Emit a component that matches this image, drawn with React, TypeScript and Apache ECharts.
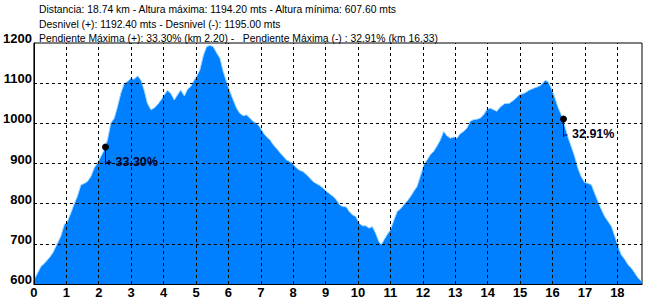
import React, { useEffect, useRef } from "react";
import * as echarts from "echarts";

// Profile: distance (km) and altitude (m)
const kms = [
  0.0, 0.11, 0.22, 0.32, 0.47, 0.58, 0.68, 0.83, 0.94, 1.02, 1.14, 1.23, 1.34, 1.45, 1.55, 1.65, 1.76, 1.86, 1.96,
  2.07, 2.17, 2.27, 2.37, 2.48, 2.58, 2.68, 2.79, 2.89, 2.99, 3.09, 3.2, 3.3, 3.4, 3.5, 3.61, 3.71, 3.81, 3.92,
  4.02, 4.12, 4.22, 4.33, 4.43, 4.53, 4.64, 4.74, 4.84, 4.92, 5.02, 5.12, 5.23, 5.33, 5.43, 5.53, 5.64, 5.74, 5.84,
  5.94, 6.03, 6.15, 6.25, 6.35, 6.46, 6.56, 6.66, 6.76, 6.87, 6.97, 7.07, 7.17, 7.28, 7.38, 7.48, 7.58, 7.69, 7.79,
  7.89, 7.99, 8.1, 8.2, 8.3, 8.41, 8.51, 8.61, 8.71, 8.82, 8.92, 9.02, 9.12, 9.23, 9.33, 9.43, 9.53, 9.64, 9.72,
  9.83, 9.93, 10.03, 10.13, 10.24, 10.34, 10.44, 10.54, 10.64, 10.72, 10.8, 10.9, 11.0, 11.11, 11.21, 11.31, 11.41,
  11.51, 11.62, 11.72, 11.82, 11.92, 12.03, 12.13, 12.23, 12.33, 12.44, 12.54, 12.64, 12.74, 12.85, 12.95, 13.05,
  13.15, 13.26, 13.36, 13.46, 13.56, 13.66, 13.77, 13.87, 13.97, 14.07, 14.18, 14.28, 14.38, 14.52, 14.67, 14.82,
  14.98, 15.13, 15.29, 15.44, 15.6, 15.7, 15.77, 15.86, 15.96, 16.06, 16.16, 16.27, 16.37, 16.47, 16.58, 16.68,
  16.78, 16.88, 16.99, 17.09, 17.2, 17.3, 17.4, 17.51, 17.61, 17.71, 17.82, 17.92, 18.02, 18.12, 18.23, 18.33,
  18.43, 18.54, 18.64, 18.74,
];
const altitudes = [
  610, 627, 644, 651, 665, 677, 694, 719, 749, 753, 777, 797, 818, 847, 850, 855, 868, 889, 901,
  918, 934, 959, 1000, 1013, 1042, 1075, 1100, 1104, 1112, 1110, 1118, 1108, 1083, 1050, 1034, 1038, 1046, 1058,
  1071, 1082, 1075, 1058, 1071, 1083, 1068, 1085, 1092, 1104, 1117, 1133, 1170, 1191, 1194, 1191, 1175, 1162, 1129,
  1104, 1083, 1058, 1038, 1025, 1019, 1021, 1013, 1005, 1000, 991, 977, 967, 959, 947, 938, 928, 918, 909,
  905, 899, 889, 883, 880, 872, 864, 855, 850, 845, 839, 831, 825, 818, 810, 797, 793, 792, 781,
  772, 768, 752, 745, 745, 739, 743, 727, 706, 698, 710, 723, 735, 760, 781, 787, 797,
  806, 818, 831, 843, 868, 897, 909, 922, 930, 944, 959, 980, 969, 963, 966, 963,
  974, 980, 988, 1005, 1009, 1010, 1013, 1021, 1034, 1038, 1034, 1030, 1040, 1049, 1050, 1059,
  1071, 1075, 1083, 1088, 1093, 1100, 1107, 1104, 1088, 1067, 1042, 1021, 996, 967, 942, 918,
  889, 868, 853, 851, 847, 826, 806, 785, 768, 756, 743, 719, 694, 673, 661, 648,
  640, 627, 615, 607.6,
];

// Grid line positions (drawn over the profile)
const xGridKm = [1, 2, 3, 4, 5, 6, 7, 8, 9, 10, 11, 12, 13, 14, 15, 16, 17, 18];
const yGridAlt = [700, 800, 900, 1000, 1100];

// Max slope markers
const markerKm = [2.2, 16.33];
const markerAlt = [941, 1011];
const markerSign = ["+", "-"];
const markerLabels = ["33.30%", "32.91%"];

// Header lines
const headerLines = [
  "Distancia: 18.74 km - Altura máxima: 1194.20 mts - Altura mínima: 607.60 mts",
  "Desnivel (+): 1192.40 mts - Desnivel (-): 1195.00 mts",
  "Pendiente Máxima (+): 33.30% (km 2.20) -   Pendiente Máxima (-) : 32.91% (km 16.33)",
];

const X_MIN = 0;
const X_MAX = 18.76;
const Y_MIN = 600;
const Y_MAX = 1200;

const LABEL_FONT = "'Liberation Sans', Arial, sans-serif";

export default function App() {
  const ref = useRef<HTMLDivElement>(null);
  useEffect(() => {
    document.body.style.margin = "0";
    if (!ref.current) return;
    const chart = echarts.init(ref.current, null, { renderer: "svg" });
    const profile = kms.map((k, i) => [k, altitudes[i]]);
    const markers = markerKm.map((k, i) => [k, markerAlt[i], i]);
    const dash = { color: "#000", width: 1, type: [3, 3] as any };
    chart.setOption({
      animation: false,
      backgroundColor: "#fff",
      grid: {
        left: 33,
        right: 16,
        top: 43,
        bottom: 16,
        show: true,
        borderColor: "#000",
        borderWidth: 1,
        backgroundColor: "#fff",
        containLabel: false,
      },
      xAxis: {
        type: "value",
        min: X_MIN,
        max: X_MAX,
        interval: 1,
        z: 5,
        axisLine: { show: true, lineStyle: { color: "#000", width: 1 } },
        axisTick: { show: false },
        splitLine: { show: false },
        axisLabel: {
          showMaxLabel: false,
          color: "#000",
          fontFamily: LABEL_FONT,
          fontWeight: "bold",
          fontSize: 13,
          margin: 2,
          formatter: (v: number) => String(v),
        },
      },
      yAxis: {
        type: "value",
        min: Y_MIN,
        max: Y_MAX,
        interval: 100,
        z: 5,
        axisLine: { show: true, lineStyle: { color: "#000", width: 1 } },
        axisTick: { show: false },
        splitLine: { show: false },
        axisLabel: {
          color: "#000",
          fontFamily: LABEL_FONT,
          fontWeight: "bold",
          fontSize: 13,
          margin: 2,
          verticalAlign: "bottom",
          lineHeight: 9,
          formatter: (v: number) => String(v),
        },
      },
      series: [
        {
          type: "line",
          data: profile,
          symbol: "none",
          z: 2,
          lineStyle: { color: "#9dd6ff", width: 1 },
          areaStyle: { color: "#0080ff", opacity: 1, origin: "start" },
        },
        {
          type: "line",
          data: [],
          z: 4,
          markLine: {
            silent: true,
            symbol: ["none", "none"],
            label: { show: false },
            lineStyle: dash,
            data: [
              ...xGridKm.map((k) => ({ xAxis: k })),
              ...yGridAlt.map((a) => ({ yAxis: a })),
            ],
          },
        },
        {
          type: "custom",
          z: 10,
          data: markers,
          renderItem: (params: any, api: any) => {
            const p = api.coord([api.value(0), api.value(1)]);
            const idx = params.dataIndex;
            const x = Math.round(p[0]) + 0.5;
            const y = Math.round(p[1]);
            const children: any[] = [
              {
                type: "line",
                shape: { x1: x, y1: y, x2: x, y2: y + 18 },
                style: { stroke: "#000080", lineWidth: 1 },
              },
              {
                type: "circle",
                shape: { cx: x, cy: y, r: 3.5 },
                style: { fill: "#000" },
              },
            ];
            if (markerSign[idx] === "+") {
              children.push(
                { type: "line", shape: { x1: x + 1, y1: y + 15.5, x2: x + 6, y2: y + 15.5 }, style: { stroke: "#000033", lineWidth: 1.5 } },
                { type: "line", shape: { x1: x + 3.5, y1: y + 13, x2: x + 3.5, y2: y + 18 }, style: { stroke: "#000033", lineWidth: 1.5 } }
              );
            } else {
              children.push({
                type: "line",
                shape: { x1: x, y1: y + 16, x2: x + 4, y2: y + 16 },
                style: { stroke: "#000080", lineWidth: 1 },
              });
            }
            children.push({
              type: "text",
              style: {
                x: x + (markerSign[idx] === "+" ? 10 : 8.5),
                y: y + 15,
                text: markerLabels[idx],
                fill: "#000020",
                font: "bold 12.5px " + LABEL_FONT,
                verticalAlign: "middle",
                align: "left",
              },
            });
            return { type: "group", children };
          },
        },
      ],
      graphic: headerLines.map((t, i) => ({
        type: "text",
        x: 39,
        y: 3 + i * 14.5,
        scaleX: 0.9,
        style: {
          text: t,
          fill: "#000",
          font: "11.5px " + LABEL_FONT,
        },
      })),
    });
    return () => chart.dispose();
  }, []);
  return <div ref={ref} style={{ width: 658, height: 300 }} />;
}
